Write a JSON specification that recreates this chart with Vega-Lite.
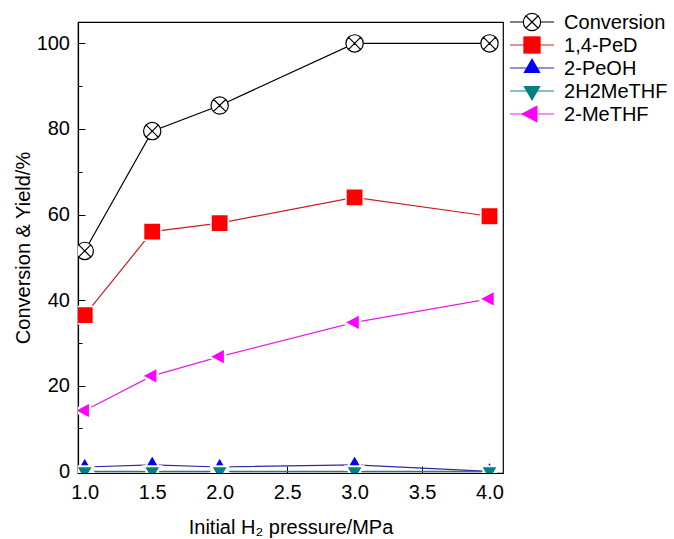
{
  "$schema": "https://vega.github.io/schema/vega-lite/v6.json",
  "background": "white",
  "padding": {"left": 12, "top": 10, "right": 0, "bottom": 0},
  "spacing": 7,
  "bounds": "flush",
  "config": {
    "font": "Liberation Sans",
    "view": {"stroke": "black", "strokeWidth": 1.2},
    "axis": {
      "grid": false,
      "domainColor": "black",
      "domainWidth": 1.2,
      "tickColor": "black",
      "tickWidth": 1,
      "labelColor": "black",
      "titleColor": "black",
      "labelFont": "Liberation Sans",
      "titleFont": "Liberation Sans",
      "labelFontSize": 20,
      "titleFontSize": 20,
      "titleFontWeight": "normal"
    }
  },
  "datasets": {
    "main": [
      {"p": 1.0, "series": "Conversion", "v": 51.5},
      {"p": 1.5, "series": "Conversion", "v": 79.5},
      {"p": 2.0, "series": "Conversion", "v": 85.5},
      {"p": 3.0, "series": "Conversion", "v": 100},
      {"p": 4.0, "series": "Conversion", "v": 100},
      {"p": 1.0, "series": "1,4-PeD", "v": 36.5},
      {"p": 1.5, "series": "1,4-PeD", "v": 56},
      {"p": 2.0, "series": "1,4-PeD", "v": 58},
      {"p": 3.0, "series": "1,4-PeD", "v": 64},
      {"p": 4.0, "series": "1,4-PeD", "v": 59.6},
      {"p": 1.0, "series": "2-PeOH", "v": 1.0},
      {"p": 1.5, "series": "2-PeOH", "v": 1.5},
      {"p": 2.0, "series": "2-PeOH", "v": 1.0},
      {"p": 3.0, "series": "2-PeOH", "v": 1.5},
      {"p": 4.0, "series": "2-PeOH", "v": 0},
      {"p": 1.0, "series": "2H2MeTHF", "v": 0},
      {"p": 1.5, "series": "2H2MeTHF", "v": 0},
      {"p": 2.0, "series": "2H2MeTHF", "v": 0},
      {"p": 3.0, "series": "2H2MeTHF", "v": 0},
      {"p": 4.0, "series": "2H2MeTHF", "v": 0},
      {"p": 1.0, "series": "2-MeTHF", "v": 14.2},
      {"p": 1.5, "series": "2-MeTHF", "v": 22.3},
      {"p": 2.0, "series": "2-MeTHF", "v": 26.8},
      {"p": 3.0, "series": "2-MeTHF", "v": 34.8},
      {"p": 4.0, "series": "2-MeTHF", "v": 40.3}
    ],
    "leg": [
      {"series": "Conversion"},
      {"series": "1,4-PeD"},
      {"series": "2-PeOH"},
      {"series": "2H2MeTHF"},
      {"series": "2-MeTHF"}
    ]
  },
  "hconcat": [
    {
      "width": 425,
      "height": 451,
      "data": {"name": "main"},
      "layer": [
        {
          "mark": {"type": "line", "strokeWidth": 1.2, "clip": true},
          "encoding": {
            "x": {
              "field": "p", "type": "quantitative",
              "scale": {"domain": [0.95, 4.1], "nice": false, "zero": false},
              "axis": {
                "title": "Initial H₂ pressure/MPa",
                "values": [1, 1.25, 1.5, 1.75, 2, 2.25, 2.5, 2.75, 3, 3.25, 3.5, 3.75, 4],
                "labelExpr": "(datum.value * 2) % 1 === 0 ? format(datum.value, '.1f') : ''",
                "tickSize": {"condition": {"test": "(datum.value * 2) % 1 === 0", "value": -7}, "value": -4},
                "labelPadding": 16,
                "titlePadding": 15
              }
            },
            "y": {
              "field": "v", "type": "quantitative",
              "scale": {"domain": [-0.4, 105], "nice": false, "zero": false},
              "axis": {
                "title": "Conversion & Yield/%",
                "values": [0, 10, 20, 30, 40, 50, 60, 70, 80, 90, 100],
                "labelExpr": "datum.value % 20 === 0 ? datum.label : ''",
                "tickSize": {"condition": {"test": "datum.value % 20 === 0", "value": -7}, "value": -4},
                "labelPadding": 15.5,
                "titlePadding": 3
              }
            },
            "stroke": {
              "field": "series", "type": "nominal",
              "scale": {
                "domain": ["Conversion", "1,4-PeD", "2-PeOH", "2H2MeTHF", "2-MeTHF"],
                "range": ["#000000", "#cc1f1f", "#2a2aa8", "#108585", "#e81ee8"]
              },
              "legend": null
            }
          }
        },
        {
          "mark": {"type": "point", "filled": true, "opacity": 1, "clip": true},
          "encoding": {
            "x": {"field": "p", "type": "quantitative"},
            "y": {"field": "v", "type": "quantitative"},
            "shape": {
              "field": "series", "type": "nominal",
              "scale": {
                "domain": ["Conversion", "1,4-PeD", "2-PeOH", "2H2MeTHF", "2-MeTHF"],
                "range": [
                  "M-1,0A1,1 0 1,0 1,0A1,1 0 1,0 -1,0ZM-0.72,-0.72L0.72,0.72M-0.72,0.72L0.72,-0.72",
                  "square",
                  "M0,-1.15L1,0.58L-1,0.58Z",
                  "M-1,-0.58L1,-0.58L0,1.15Z",
                  "M-1.27,0L0.63,-1L0.63,1Z"
                ]
              },
              "legend": null
            },
            "size": {
              "field": "series", "type": "nominal",
              "scale": {
                "domain": ["Conversion", "1,4-PeD", "2-PeOH", "2H2MeTHF", "2-MeTHF"],
                "range": [300, 300, 240, 340, 330]
              },
              "legend": null
            },
            "fill": {
              "field": "series", "type": "nominal",
              "scale": {
                "domain": ["Conversion", "1,4-PeD", "2-PeOH", "2H2MeTHF", "2-MeTHF"],
                "range": ["#ffffff", "#ff0000", "#0000ff", "#008080", "#ff00ff"]
              },
              "legend": null
            },
            "stroke": {
              "field": "series", "type": "nominal",
              "scale": {
                "domain": ["Conversion", "1,4-PeD", "2-PeOH", "2H2MeTHF", "2-MeTHF"],
                "range": ["#000000", "#ffffff", "#ffffff", "#ffffff", "#ffffff"]
              },
              "legend": null
            },
            "strokeWidth": {
              "field": "series", "type": "nominal",
              "scale": {
                "domain": ["Conversion", "1,4-PeD", "2-PeOH", "2H2MeTHF", "2-MeTHF"],
                "range": [1.2, 2.5, 2.5, 2.5, 2.5]
              },
              "legend": null
            }
          }
        }
      ],
      "resolve": {"scale": {"stroke": "independent"}}
    },
    {
      "width": 132,
      "height": 92,
      "view": {"stroke": null},
      "data": {"name": "leg"},
      "layer": [
        {
          "mark": {"type": "rule", "strokeWidth": 1.2},
          "encoding": {
            "x": {"datum": 0, "type": "quantitative", "scale": {"domain": [0, 3], "nice": false, "zero": false}, "axis": null},
            "x2": {"datum": 1},
            "y": {"field": "series", "type": "nominal", "sort": null, "scale": {"type": "point", "padding": 0}, "axis": null},
            "stroke": {
              "field": "series", "type": "nominal",
              "scale": {
                "domain": ["Conversion", "1,4-PeD", "2-PeOH", "2H2MeTHF", "2-MeTHF"],
                "range": ["#000000", "#cc1f1f", "#2a2aa8", "#108585", "#e81ee8"]
              },
              "legend": null
            }
          }
        },
        {
          "mark": {"type": "point", "filled": true, "opacity": 1},
          "encoding": {
            "x": {"datum": 0.5, "type": "quantitative"},
            "y": {"field": "series", "type": "nominal", "sort": null},
            "shape": {
              "field": "series", "type": "nominal",
              "scale": {
                "domain": ["Conversion", "1,4-PeD", "2-PeOH", "2H2MeTHF", "2-MeTHF"],
                "range": [
                  "M-1,0A1,1 0 1,0 1,0A1,1 0 1,0 -1,0ZM-0.72,-0.72L0.72,0.72M-0.72,0.72L0.72,-0.72",
                  "square",
                  "M0,-1.15L1,0.58L-1,0.58Z",
                  "M-1,-0.58L1,-0.58L0,1.15Z",
                  "M-1.27,0L0.63,-1L0.63,1Z"
                ]
              },
              "legend": null
            },
            "size": {
              "field": "series", "type": "nominal",
              "scale": {
                "domain": ["Conversion", "1,4-PeD", "2-PeOH", "2H2MeTHF", "2-MeTHF"],
                "range": [300, 300, 240, 340, 330]
              },
              "legend": null
            },
            "fill": {
              "field": "series", "type": "nominal",
              "scale": {
                "domain": ["Conversion", "1,4-PeD", "2-PeOH", "2H2MeTHF", "2-MeTHF"],
                "range": ["#ffffff", "#ff0000", "#0000ff", "#008080", "#ff00ff"]
              },
              "legend": null
            },
            "stroke": {
              "value": "#000000",
              "condition": {"test": "datum.series !== 'Conversion'", "value": null}
            },
            "strokeWidth": {"value": 1.2}
          }
        },
        {
          "mark": {"type": "text", "align": "left", "baseline": "middle", "fontSize": 20, "font": "Liberation Sans", "color": "black", "dy": 1},
          "encoding": {
            "x": {"datum": 1.23, "type": "quantitative"},
            "y": {"field": "series", "type": "nominal", "sort": null},
            "text": {"field": "series"}
          }
        }
      ],
      "resolve": {"scale": {"stroke": "independent"}}
    }
  ]
}
